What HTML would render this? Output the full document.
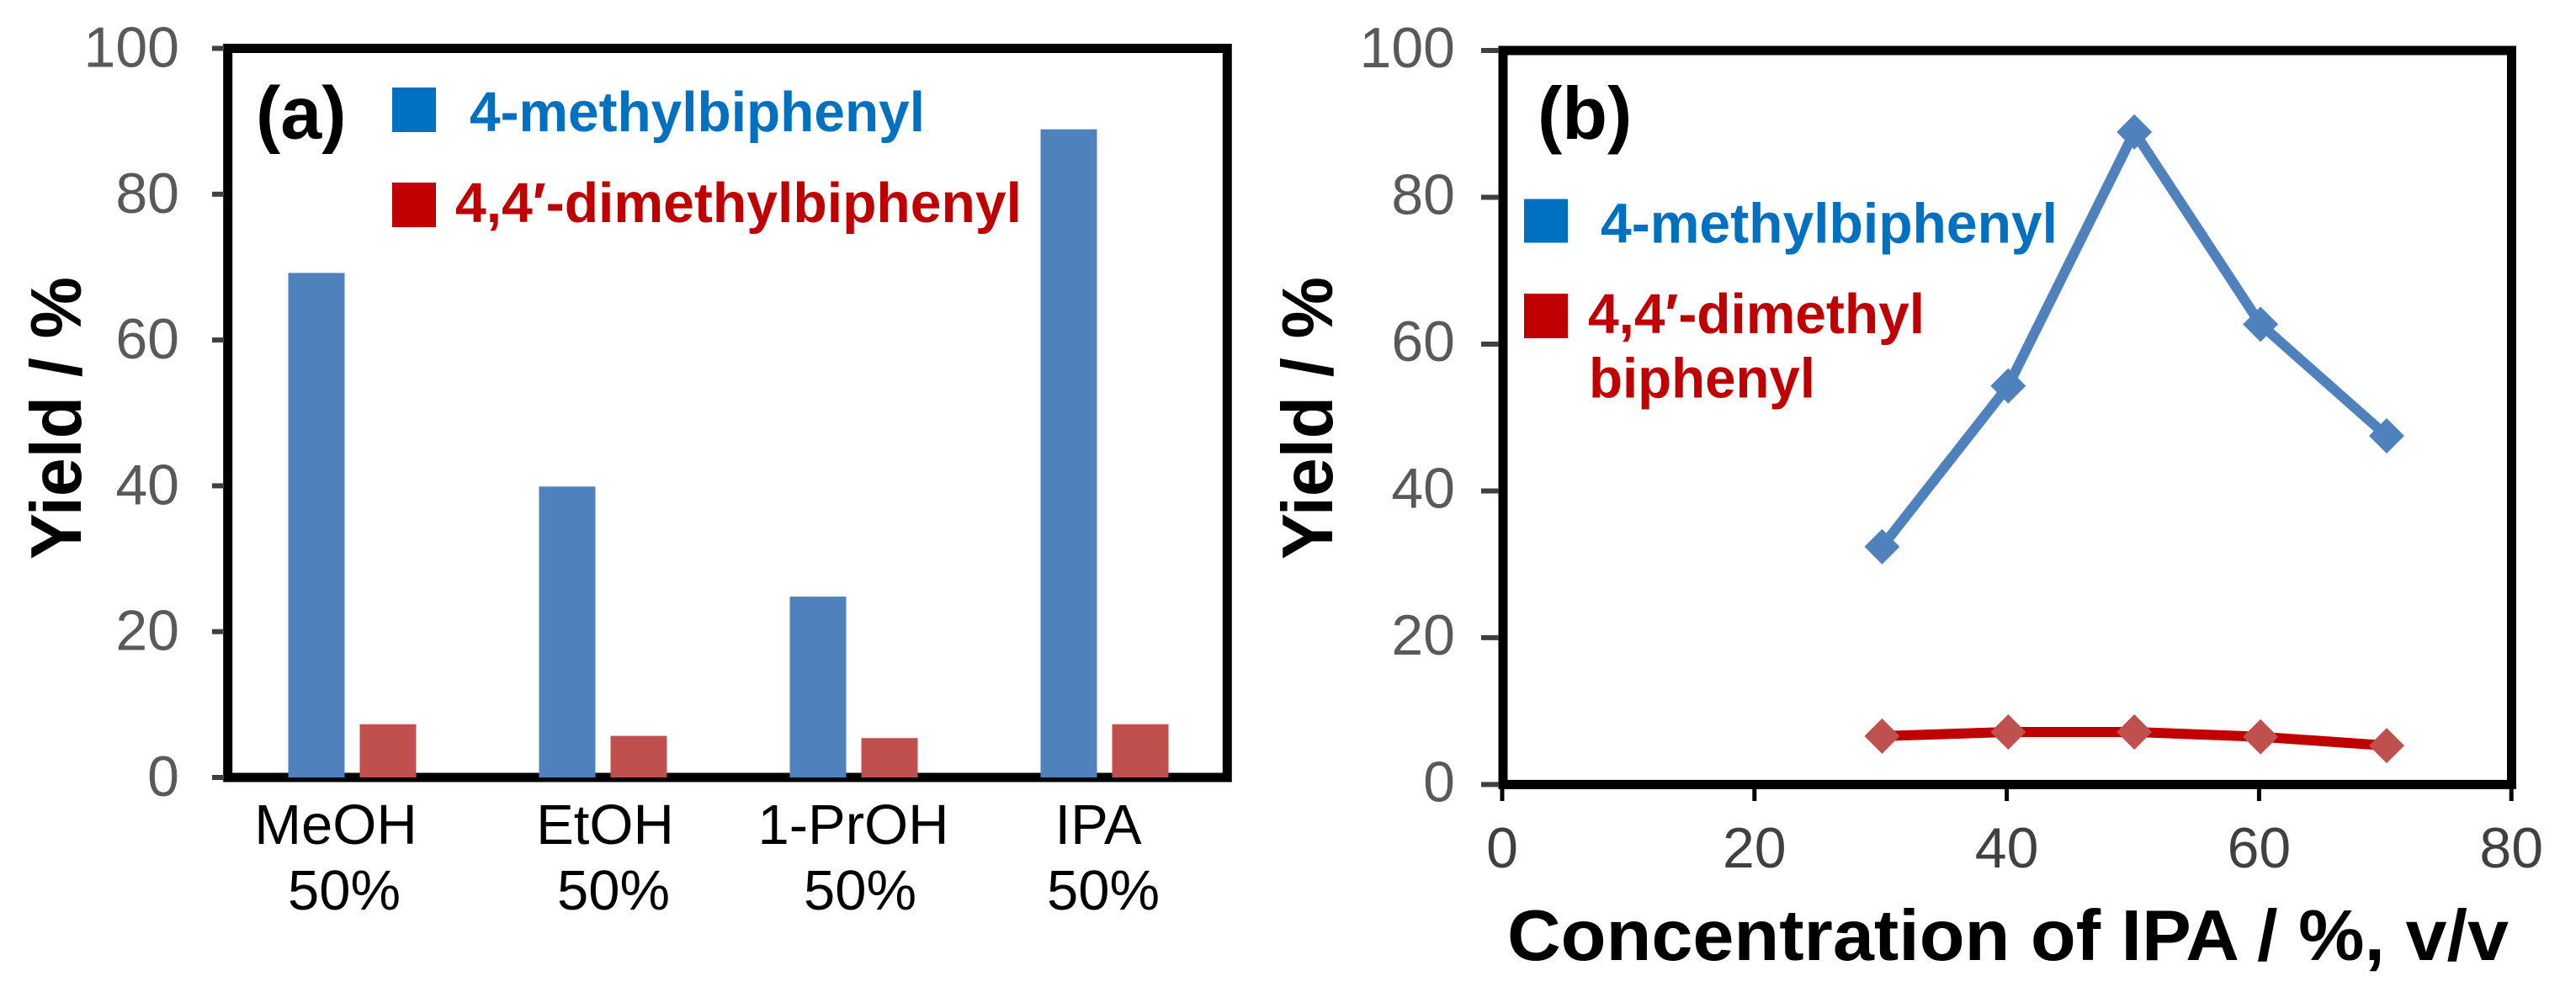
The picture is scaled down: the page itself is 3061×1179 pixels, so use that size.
<!DOCTYPE html>
<html lang="en">
<head>
<meta charset="utf-8">
<title>Yield charts</title>
<style>
html,body{margin:0;padding:0;background:#fff;}
svg{display:block;}
text{font-family:"Liberation Sans",Arial,sans-serif;}
</style>
</head>
<body>
<svg id="figure" xmlns="http://www.w3.org/2000/svg" width="3061" height="1179" viewBox="0 0 3061 1179">
  <rect x="0" y="0" width="3061" height="1179" fill="#fff"/>

  <g id="panel-a">
    <rect x="270.7" y="57.5" width="1187.6" height="866.5" fill="none" stroke="#000" stroke-width="11"/>
    <text x="304" y="164.5" font-size="88" font-weight="700" fill="#000">(a)</text>
    <rect x="466" y="104" width="52" height="53" fill="#0070C0"/>
    <text x="558" y="156" font-size="67" font-weight="700" fill="#0070C0" textLength="541" lengthAdjust="spacingAndGlyphs">4-methylbiphenyl</text>
    <rect x="466" y="217" width="52" height="53" fill="#C00000"/>
    <text x="541" y="264" font-size="67" font-weight="700" fill="#C00000" textLength="673" lengthAdjust="spacingAndGlyphs">4,4′-dimethylbiphenyl</text>
    <text transform="translate(96,665) rotate(-90)" font-size="85" font-weight="700" fill="#000" textLength="336" lengthAdjust="spacingAndGlyphs">Yield / %</text>
    <g font-size="67" fill="#000" text-anchor="middle">
      <text x="399" y="1003">MeOH</text>
      <text x="409" y="1081">50%</text>
      <text x="719" y="1003">EtOH</text>
      <text x="729" y="1081">50%</text>
      <text x="1014" y="1003">1-PrOH</text>
      <text x="1022" y="1081">50%</text>
      <text x="1305" y="1003">IPA</text>
      <text x="1311" y="1081">50%</text>
    </g>
  </g>

  <g id="panel-b">
    <rect x="1786" y="60" width="1198.5" height="872.4" fill="none" stroke="#000" stroke-width="11"/>
    <text x="1827" y="165" font-size="88" font-weight="700" fill="#000">(b)</text>
    <rect x="1811" y="236.5" width="52" height="52" fill="#0070C0"/>
    <text x="1902" y="288.5" font-size="67" font-weight="700" fill="#0070C0" textLength="543" lengthAdjust="spacingAndGlyphs">4-methylbiphenyl</text>
    <rect x="1811" y="349" width="52" height="53" fill="#C00000"/>
    <text x="1887" y="396" font-size="67" font-weight="700" fill="#C00000" textLength="400" lengthAdjust="spacingAndGlyphs">4,4′-dimethyl</text>
    <text x="1888" y="472.5" font-size="67" font-weight="700" fill="#C00000" textLength="269" lengthAdjust="spacingAndGlyphs">biphenyl</text>
    <text transform="translate(1583,665) rotate(-90)" font-size="85" font-weight="700" fill="#000" textLength="336" lengthAdjust="spacingAndGlyphs">Yield / %</text>
    <text x="1791" y="1141" font-size="85" font-weight="700" fill="#000" textLength="1190" lengthAdjust="spacingAndGlyphs">Concentration of IPA / %, v/v</text>
  </g>
</svg>

<script>
var yTickValues = [0, 20, 40, 60, 80, 100];
var xTickValues = [0, 20, 40, 60, 80];
var barCategories = ["MeOH", "EtOH", "1-PrOH", "IPA"];
var barMethyl = [69.2, 39.9, 24.8, 88.9];
var barDimethyl = [7.3, 5.7, 5.4, 7.3];
var lineConcentration = [30, 40, 50, 60, 70];
var lineMethyl = [32.4, 54.3, 88.9, 62.7, 47.5];
var lineDimethyl = [6.6, 7.15, 7.15, 6.5, 5.3];

var SVG_NS = "http://www.w3.org/2000/svg";

function make(parent, tag, attrs) {
  var el = document.createElementNS(SVG_NS, tag);
  for (var key in attrs) {
    el.setAttribute(key, attrs[key]);
  }
  parent.appendChild(el);
  return el;
}

/* Panel (a) axis functions */
function aY(v) { return 924 - v * 8.665; }
function aBand(i) { return 419.5 + i * 298; }

/* Panel (b) axis functions */
function bY(v) { return 932.4 - v * 8.724; }
function bX(v) { return 1785 + v * 14.99; }
function bPointX(v) { return bX(v) + 1.7; }

var panelA = document.getElementById("panel-a");
var panelB = document.getElementById("panel-b");

/* Panel (a) y ticks */
yTickValues.forEach(function (v) {
  var tick = make(panelA, "line", { x1: 252, x2: 266, y1: aY(v), y2: aY(v), stroke: "#404040", "stroke-width": 6 });
  
  
  var label = make(panelA, "text", { x: 213, y: aY(v) + 22, "font-size": 68, fill: "#595959", "text-anchor": "end" });
  label.textContent = String(v);
  
  
});

/* Panel (a) bars */
barCategories.forEach(function (category, i) {
  var center = aBand(i);
  var methyl = make(panelA, "rect", { x: center - 77, y: aY(barMethyl[i]), width: 67, height: aY(0) - aY(barMethyl[i]), fill: "#4F81BD" });
  
  
  var dimethyl = make(panelA, "rect", { x: center + 8, y: aY(barDimethyl[i]), width: 67, height: aY(0) - aY(barDimethyl[i]), fill: "#C0504D" });
  
  
});

/* Panel (b) y ticks */
yTickValues.forEach(function (v) {
  var tick = make(panelB, "line", { x1: 1760, x2: 1781, y1: bY(v), y2: bY(v), stroke: "#404040", "stroke-width": 6 });
  
  
  var label = make(panelB, "text", { x: 1729, y: bY(v) + 20, "font-size": 68, fill: "#595959", "text-anchor": "end" });
  label.textContent = String(v);
  
  
});

/* Panel (b) x ticks */
xTickValues.forEach(function (v) {
  var tick = make(panelB, "line", { x1: bX(v), x2: bX(v), y1: 937, y2: 952, stroke: "#000", "stroke-width": 5 });
  
  
  var label = make(panelB, "text", { x: bX(v), y: 1031, "font-size": 68, fill: "#404040", "text-anchor": "middle" });
  label.textContent = String(v);
  
  
});

/* Panel (b) series */
function pathFor(values) {
  return values.map(function (v, i) {
    return (i ? "L" : "M") + bPointX(lineConcentration[i]) + " " + bY(v);
  }).join(" ");
}

function diamondFor(cx, cy) {
  var r = 21;
  return (cx) + "," + (cy - r) + " " + (cx + r) + "," + cy + " " + cx + "," + (cy + r) + " " + (cx - r) + "," + cy;
}

var methylLine = make(panelB, "path", { d: pathFor(lineMethyl), fill: "none", stroke: "#4F81BD", "stroke-width": 12, "stroke-linejoin": "round" });



var dimethylLine = make(panelB, "path", { d: pathFor(lineDimethyl), fill: "none", stroke: "#C00000", "stroke-width": 12, "stroke-linejoin": "round" });



lineMethyl.forEach(function (v, i) {
  var point = make(panelB, "polygon", { points: diamondFor(bPointX(lineConcentration[i]), bY(v)), fill: "#4F81BD" });
  
  
});

lineDimethyl.forEach(function (v, i) {
  var point = make(panelB, "polygon", { points: diamondFor(bPointX(lineConcentration[i]), bY(v)), fill: "#C0504D" });
  
  
});
</script>
</body>
</html>
